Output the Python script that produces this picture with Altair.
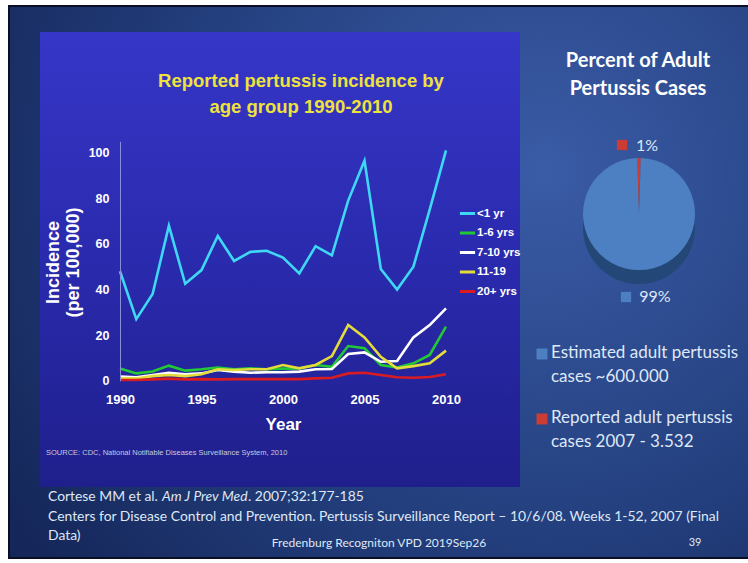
import altair as alt
import pandas as pd

# ---------------- data ----------------
years = list(range(1990, 2011))
series_names = ["<1 yr", "1-6 yrs", "7-10 yrs", "11-19", "20+ yrs"]
lt1 = [48, 27, 38, 68, 42.5, 48.5, 63.5, 52.5, 56.5, 57, 54, 47, 59, 55, 79, 96.5, 49, 40, 50, 75, 101]
g1_6 = [5.4, 3.2, 4, 6.6, 4.4, 5, 5.8, 5, 5.4, 5, 5.3, 5.4, 6.9, 6.1, 15.2, 14.2, 6.9, 5.8, 7.6, 11.3, 23.7]
g7_10 = [1.8, 1.5, 2.5, 3.5, 2.8, 3.2, 4.7, 4, 3.5, 3.7, 3.7, 4, 5, 5.1, 11.7, 12.4, 8.3, 8.6, 19, 24.4, 31.7]
g11_19 = [1, 1, 2, 2.5, 2, 2.8, 5, 4.7, 5, 5, 6.9, 5.4, 6.9, 10.8, 24.4, 19, 10.5, 5.4, 6.4, 7.6, 13.2]
g20 = [0.3, 0.3, 0.6, 0.9, 0.6, 0.7, 0.6, 0.7, 0.7, 0.7, 0.7, 0.7, 1, 1.3, 3.2, 3.5, 2.5, 1.5, 1.3, 1.6, 2.8]
series_values = [lt1, g1_6, g7_10, g11_19, g20]
x_ticks = [1990, 1995, 2000, 2005, 2010]
y_ticks = [0, 20, 40, 60, 80, 100]

pie_cats = ["Reported", "Estimated"]
pie_pct = [1, 99]
pie_labels = ["1%", "99%"]
pie_legend = [["Estimated adult pertussis", "cases ~600.000"],
              ["Reported adult pertussis", "cases 2007 - 3.532"]]

chart_title = ["Reported pertussis incidence by", "age group 1990-2010"]
right_title = ["Percent of Adult", "Pertussis Cases"]
source_text = "SOURCE: CDC, National Notifiable Diseases Surveillance System, 2010"
ref1 = ["Cortese MM et al. ", "Am J Prev Med", ". 2007;32:177-185"]
ref2 = "Centers for Disease Control and Prevention. Pertussis Surveillance Report \u2013 10/6/08. Weeks 1-52, 2007 (Final"
ref3 = "Data)"
footer = "Fredenburg Recogniton VPD 2019Sep26"
page_no = "39"

# ---------------- tables ----------------
rows = []
for name, vals in zip(series_names, series_values):
    for yr, v in zip(years, vals):
        rows.append({"year": yr, "value": v, "group": name})
lines_df = pd.DataFrame(rows)
pie_df = pd.DataFrame({"cat": pie_cats, "pct": pie_pct, "label": pie_labels, "ord": [0, 1]})

W, H = 748, 563
SANS = "Liberation Sans"
CAL = "Lato"
LIGHT = "#dfe8f6"
one = pd.DataFrame({"a": [0]})


def txt(text, x, y, size, color, font, weight="normal", align="left", style="normal",
        baseline="middle", angle=0, lh=None):
    kw = dict(fontSize=size, color=color, font=font, fontWeight=weight, align=align,
              fontStyle=style, baseline=baseline, angle=angle)
    if lh is not None:
        kw["lineHeight"] = lh
    if isinstance(text, list):
        text = "\n".join(text)
        kw["lineBreak"] = "\n"
    return alt.Chart(pd.DataFrame({"t": [text]})).mark_text(**kw).encode(
        x=alt.value(x), y=alt.value(y), text="t:N")


# slide background
slide_grad = alt.RadialGradient(
    gradient="radial",
    stops=[alt.GradientStop(color="#3a5ba6", offset=0),
           alt.GradientStop(color="#24407f", offset=0.55),
           alt.GradientStop(color="#15275a", offset=1)],
    x1=0.72, y1=0.35, r1=0, x2=0.72, y2=0.35, r2=0.85)
slide = alt.Chart(one).mark_rect(fill=slide_grad, stroke="#0b0f25", strokeWidth=2).encode(
    x=alt.value(9), x2=alt.value(752), y=alt.value(6), y2=alt.value(558))

panel_grad = alt.LinearGradient(
    gradient="linear",
    stops=[alt.GradientStop(color="#3636c8", offset=0),
           alt.GradientStop(color="#2a2aae", offset=0.5),
           alt.GradientStop(color="#1f1f8c", offset=1)],
    x1=0, y1=0, x2=0, y2=1)
panel = alt.Chart(one).mark_rect(fill=panel_grad).encode(
    x=alt.value(40), x2=alt.value(520), y=alt.value(32), y2=alt.value(487))

# line chart
lines = alt.Chart(lines_df).mark_line(strokeWidth=2.6).encode(
    x=alt.X("year:Q",
            scale=alt.Scale(domain=[1990, 2010], range=[120, 446], nice=False, zero=False),
            axis=alt.Axis(values=x_ticks, format="d", orient="bottom", offset=-182.3,
                          zindex=1, ticks=False, domain=False, grid=False,
                          labelOverlap=False, labelFlush=False, labelColor="white",
                          labelFont=SANS, labelFontWeight="bold", labelFontSize=13,
                          labelPadding=13,
                          title="Year", titleColor="white", titleFont=SANS,
                          titleFontWeight="bold", titleFontSize=17, titlePadding=10)),
    y=alt.Y("value:Q",
            scale=alt.Scale(domain=[0, 105], range=[380.7, 141.3], nice=False),
            axis=alt.Axis(values=y_ticks, orient="left", offset=-120, zindex=1,
                          ticks=False, grid=False, domainColor="#8c8cdc", domainWidth=1,
                          labelColor="white", labelFont=SANS, labelFontWeight="bold",
                          labelFontSize=12.5, labelPadding=11,
                          title=["Incidence", "(per 100,000)"], titleColor="white",
                          titleFont=SANS, titleFontWeight="bold", titleFontSize=18,
                          titleLineHeight=20, titleX=-67, titleY=262, titleAngle=270,
                          titleAlign="center", titleBaseline="middle")),
    color=alt.Color("group:N",
                    scale=alt.Scale(domain=series_names,
                                    range=["#3fd8f4", "#23c935", "#ffffff", "#e4dc3a", "#d81c22"]),
                    sort=series_names,
                    legend=alt.Legend(orient="none", legendX=458, legendY=204, title=None,
                                      symbolType="stroke", symbolStrokeWidth=3,
                                      symbolSize=230, labelColor="white", labelFont=SANS,
                                      labelFontWeight="bold", labelFontSize=11.5,
                                      labelOffset=0, rowPadding=3.5)),
)

# pie
CX, CY, R = 639, 214, 56
theta_scale = alt.Scale(range=[-0.0314159, 6.2517693])
red_blue = alt.Scale(domain=pie_cats, range=["#cc3b34", "#4c80c2"])
pie_side = alt.Chart(pie_df).mark_arc(outerRadius=R).encode(
    theta=alt.Theta("pct:Q", stack=True, scale=theta_scale),
    order=alt.Order("ord:Q"),
    color=alt.Color("cat:N", scale=alt.Scale(domain=pie_cats, range=["#8c2222", "#234877"]),
                    legend=None),
    x=alt.value(CX), y=alt.value(CY + 14))
pie_top = alt.Chart(pie_df).mark_arc(outerRadius=R).encode(
    theta=alt.Theta("pct:Q", stack=True, scale=theta_scale),
    order=alt.Order("ord:Q"),
    color=alt.Color("cat:N", scale=red_blue, legend=None),
    x=alt.value(CX), y=alt.value(CY))

lab1 = alt.Chart(pie_df).mark_text(
    radius=R + 12, fontSize=16, font=CAL, color=LIGHT, dx=8, align="center").encode(
    theta=alt.Theta("pct:Q", stack=True, scale=theta_scale), order=alt.Order("ord:Q"),
    text="label:N", x=alt.value(CX), y=alt.value(CY),
    opacity=alt.condition(alt.datum.ord == 0, alt.value(1), alt.value(0)))
lab99 = alt.Chart(pie_df).mark_text(
    radius=R + 27, fontSize=16, font=CAL, color=LIGHT, dx=16, align="center").encode(
    theta=alt.Theta("pct:Q", stack=True, scale=theta_scale), order=alt.Order("ord:Q"),
    text="label:N", x=alt.value(CX), y=alt.value(CY),
    opacity=alt.condition(alt.datum.ord == 1, alt.value(1), alt.value(0)))
sq1 = alt.Chart(pie_df).mark_square(size=105).encode(
    x=alt.value(622), y=alt.value(145),
    color=alt.Color("cat:N", scale=red_blue, legend=None),
    opacity=alt.condition(alt.datum.ord == 0, alt.value(1), alt.value(0)))
sq99 = alt.Chart(pie_df).mark_square(size=105).encode(
    x=alt.value(626), y=alt.value(297),
    color=alt.Color("cat:N", scale=red_blue, legend=None),
    opacity=alt.condition(alt.datum.ord == 1, alt.value(1), alt.value(0)))

leg_sq1 = alt.Chart(one).mark_square(size=120, color="#4c80c2", opacity=1).encode(
    x=alt.value(542), y=alt.value(354))
leg_sq2 = alt.Chart(one).mark_square(size=120, color="#cc3b34", opacity=1).encode(
    x=alt.value(542), y=alt.value(419))

layers = [
    slide, panel,
    txt(chart_title, 301, 81, 18.5, "#eee23c", SANS, "bold", "center", lh=26),
    txt(source_text, 46, 453, 7.5, "#c8c8dc", SANS),
    lines,
    txt(right_title, 638, 61, 20, "white", CAL, "bold", "center", lh=28),
    pie_side, pie_top, lab1, lab99, sq1, sq99,
    leg_sq1, leg_sq2,
    txt(pie_legend[0], 551, 353, 17, LIGHT, CAL, lh=24),
    txt(pie_legend[1], 551, 418, 17, LIGHT, CAL, lh=24),
    txt(ref1[0], 48, 497, 13.9, LIGHT, CAL),
    txt(ref1[1], 162, 497, 13.9, LIGHT, CAL, style="italic"),
    txt(ref1[2], 248, 497, 13.9, LIGHT, CAL),
    txt(ref2, 48, 517, 13.9, LIGHT, CAL),
    txt(ref3, 48, 536, 13.9, LIGHT, CAL),
    txt(footer, 379, 543, 12, LIGHT, CAL, align="center"),
    txt(page_no, 695, 543, 11, LIGHT, CAL, align="center"),
]

chart = alt.layer(*layers).resolve_scale(color="independent", opacity="independent").properties(
    width=W, height=H, padding=0, autosize=alt.AutoSizeParams(type="none"),
    background="white",
).configure_view(stroke=None)

chart.save("out.html", embed_options={"renderer": "svg", "actions": False})
